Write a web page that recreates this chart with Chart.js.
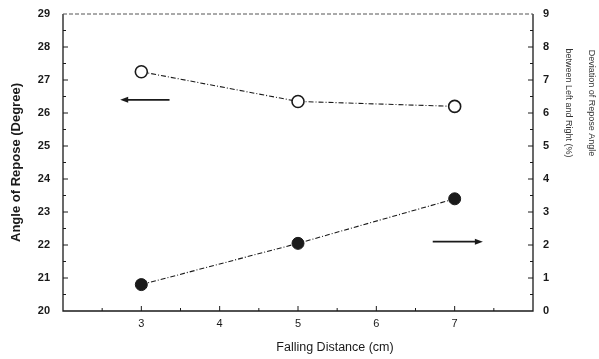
<!DOCTYPE html>
<html>
<head>
<meta charset="utf-8">
<script src="https://cdn.jsdelivr.net/npm/chart.js@4.4.1/dist/chart.umd.min.js"></script>
<style>
    html, body { margin: 0; padding: 0; background: #fff; }
    #wrap { width: 599px; height: 359px; }
</style>
</head>
<body>
<div id="wrap"><canvas id="reposeChart" width="599" height="359"></canvas></div>
<script>
    // Datos
    const fallingDistance = [3, 5, 7];
    const angleOfRepose = [27.25, 26.35, 26.2];
    const deviationLeftRight = [0.8, 2.05, 3.4];
    const xTickLabels = ['3', '4', '5', '6', '7'];
    const leftTickLabels = ['20', '21', '22', '23', '24', '25', '26', '27', '28', '29'];
    const rightTickLabels = ['0', '1', '2', '3', '4', '5', '6', '7', '8', '9'];
    const rightTitleLines = ['Deviation of Repose Angle', 'between Left and Right (%)'];

    const fontFamily = '"Liberation Sans", Arial, sans-serif';
    const ink = '#1a1a1a';

    /**
     * Marco, marcas hacia dentro, flechas y titulos extra
     */
    const decorPlugin = {
        id: 'decor',
        afterDatasetsDraw(chart) {
            const ctx = chart.ctx;
            const area = chart.chartArea;
            const sx = chart.scales.x;
            const sy = chart.scales.y;
            const sy2 = chart.scales.y2;

            ctx.save();
            ctx.strokeStyle = ink;

            // Marco del area
            ctx.lineWidth = 1.3;
            ctx.beginPath();
            ctx.moveTo(area.left, area.top);
            ctx.lineTo(area.left, area.bottom);
            ctx.lineTo(area.right, area.bottom);
            ctx.lineTo(area.right, area.top);
            ctx.stroke();
            ctx.setLineDash([4, 2]);
            ctx.lineWidth = 1;
            ctx.strokeStyle = '#555';
            ctx.beginPath();
            ctx.moveTo(area.left, area.top);
            ctx.lineTo(area.right, area.top);
            ctx.stroke();
            ctx.setLineDash([]);
            ctx.strokeStyle = ink;

            // Marcas del eje X
            ctx.lineWidth = 1;
            for (let v = 2.5; v < 8; v += 0.5) {
                const px = sx.getPixelForValue(v);
                const len = Number.isInteger(v) ? 5 : 3;
                ctx.beginPath();
                ctx.moveTo(px, area.bottom);
                ctx.lineTo(px, area.bottom - len);
                ctx.stroke();
            }
            // Marcas de los ejes Y
            for (let v = 20.5; v < 29; v += 0.5) {
                const py = sy.getPixelForValue(v);
                const len = Number.isInteger(v) ? 5 : 3;
                ctx.beginPath();
                ctx.moveTo(area.left, py);
                ctx.lineTo(area.left + len, py);
                ctx.stroke();
            }
            for (let v = 0.5; v < 9; v += 0.5) {
                const py = sy2.getPixelForValue(v);
                const len = Number.isInteger(v) ? 5 : 3;
                ctx.beginPath();
                ctx.moveTo(area.right, py);
                ctx.lineTo(area.right - len, py);
                ctx.stroke();
            }

            // Flechas indicando el eje de cada serie
            drawArrow(ctx, sx.getPixelForValue(3.36), sx.getPixelForValue(2.73), sy.getPixelForValue(26.4));
            drawArrow(ctx, sx.getPixelForValue(6.72), sx.getPixelForValue(7.36), sy2.getPixelForValue(2.1));

            // Titulo del eje X
            ctx.fillStyle = ink;
            ctx.font = '12.5px ' + fontFamily;
            ctx.textAlign = 'center';
            ctx.textBaseline = 'middle';
            ctx.fillText('Falling Distance (cm)', 335, 348);

            // Titulo del eje derecho (dos lineas, giradas)
            ctx.font = '9px ' + fontFamily;
            ctx.fillStyle = '#333';
            const cols = [591, 568];
            rightTitleLines.forEach(function(line, i) {
                ctx.save();
                ctx.translate(cols[i], 103);
                ctx.rotate(Math.PI / 2);
                ctx.fillText(line, 0, 0);
                ctx.restore();
            });
            ctx.restore();
        }
    };

    function drawArrow(ctx, fromX, toX, y) {
        const dir = toX > fromX ? 1 : -1;
        ctx.save();
        ctx.lineWidth = 1.8;
        ctx.strokeStyle = ink;
        ctx.fillStyle = ink;
        ctx.beginPath();
        ctx.moveTo(fromX, y);
        ctx.lineTo(toX - dir * 6, y);
        ctx.stroke();
        ctx.beginPath();
        ctx.moveTo(toX, y);
        ctx.lineTo(toX - dir * 8, y - 3);
        ctx.lineTo(toX - dir * 8, y + 3);
        ctx.closePath();
        ctx.fill();
        ctx.restore();
    }

    // Ancho fijo de eje vertical, sin relleno extra por las etiquetas
    function fixVertical(width) {
        return function(scale) {
            scale.width = width;
            scale.paddingTop = 0;
            scale.paddingBottom = 0;
        };
    }

    const ctx = document.getElementById('reposeChart').getContext('2d');

    new Chart(ctx, {
        type: 'scatter',
        data: {
            datasets: [{
                label: 'Angle of Repose',
                data: fallingDistance.map(function(x, i) { return { x: x, y: angleOfRepose[i] }; }),
                yAxisID: 'y',
                showLine: true,
                borderColor: ink,
                borderWidth: 1.1,
                borderDash: [5, 2, 1, 2],
                pointStyle: 'circle',
                pointRadius: 6,
                pointBorderWidth: 1.6,
                pointBorderColor: ink,
                pointBackgroundColor: '#fff'
            }, {
                label: 'Deviation',
                data: fallingDistance.map(function(x, i) { return { x: x, y: deviationLeftRight[i] }; }),
                yAxisID: 'y2',
                showLine: true,
                borderColor: ink,
                borderWidth: 1.1,
                borderDash: [5, 2, 1, 2],
                pointStyle: 'circle',
                pointRadius: 6,
                pointBorderWidth: 1,
                pointBorderColor: ink,
                pointBackgroundColor: ink
            }]
        },
        options: {
            responsive: false,
            animation: false,
            layout: { padding: { top: 14, left: 0, right: 0, bottom: 0 } },
            plugins: {
                legend: { display: false },
                tooltip: { enabled: false }
            },
            scales: {
                x: {
                    type: 'linear',
                    min: 2,
                    max: 8,
                    afterFit: function(scale) {
                        scale.height = 48;
                        scale.paddingLeft = 0;
                        scale.paddingRight = 0;
                    },
                    grid: { display: false, drawTicks: false },
                    border: { display: false },
                    ticks: {
                        stepSize: 1,
                        padding: 6,
                        color: ink,
                        font: { family: fontFamily, size: 11 },
                        callback: function(value) {
                            const label = String(value);
                            return xTickLabels.includes(label) ? label : '';
                        }
                    }
                },
                y: {
                    position: 'left',
                    min: 20,
                    max: 29,
                    afterFit: fixVertical(63),
                    grid: { display: false, drawTicks: false },
                    border: { display: false },
                    ticks: {
                        stepSize: 1,
                        padding: 13,
                        color: ink,
                        font: { family: fontFamily, size: 11, weight: 'bold' },
                        callback: function(value) {
                            return leftTickLabels[value - 20];
                        }
                    },
                    title: {
                        display: true,
                        text: 'Angle of Repose (Degree)',
                        color: ink,
                        padding: { top: 9, bottom: 0 },
                        font: { family: fontFamily, size: 13, weight: 'bold' }
                    }
                },
                y2: {
                    position: 'right',
                    min: 0,
                    max: 9,
                    afterFit: fixVertical(66),
                    grid: { display: false, drawTicks: false },
                    border: { display: false },
                    ticks: {
                        stepSize: 1,
                        padding: 10,
                        color: ink,
                        font: { family: fontFamily, size: 11, weight: 'bold' },
                        callback: function(value) {
                            return rightTickLabels[value];
                        }
                    }
                }
            }
        },
        plugins: [decorPlugin]
    });
</script>
</body>
</html>
